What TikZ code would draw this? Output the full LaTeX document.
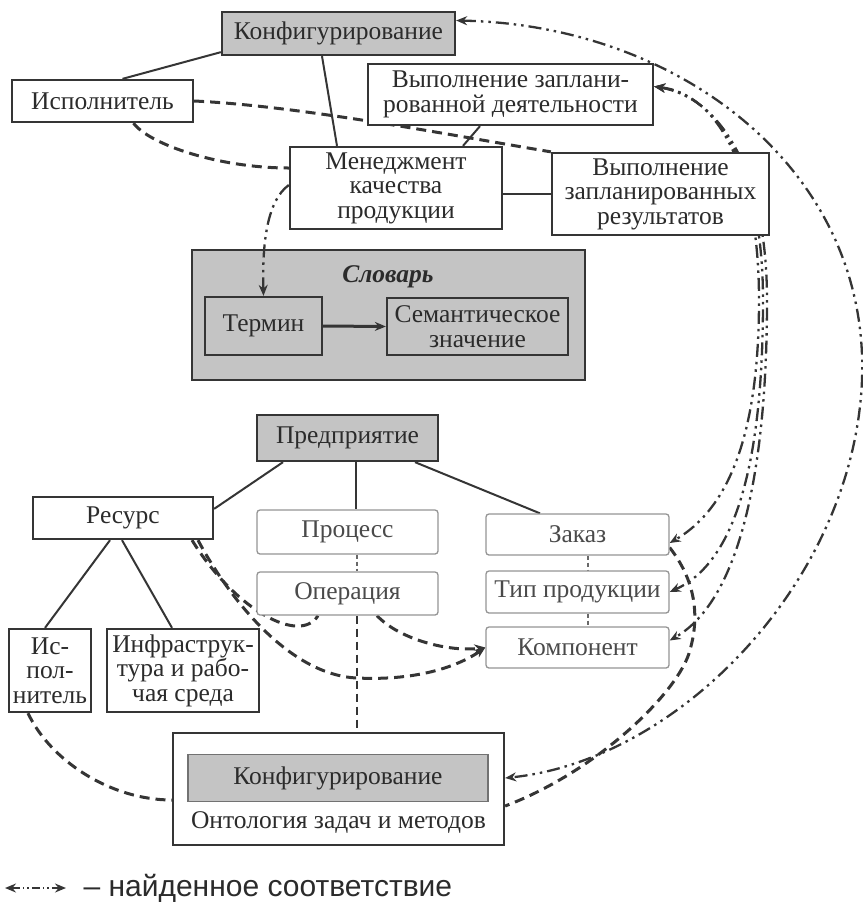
\documentclass[tikz,border=0pt]{standalone}
\usepackage{fontspec}
\setmainfont{Liberation Serif}
\newfontfamily\legendfont{Liberation Sans}
\usetikzlibrary{arrows.meta,calc}
\definecolor{ink}{HTML}{353535}
\definecolor{txt}{HTML}{2B2B2B}
\definecolor{lighttxt}{HTML}{4A4A4A}
\definecolor{lightline}{HTML}{959595}
\definecolor{boxgray}{HTML}{C4C4C4}
\pgfdeclarelayer{back}
\pgfdeclarelayer{lines}
\pgfsetlayers{back,lines,main}
\begin{document}
\begin{tikzpicture}[x=1pt,y=-1pt,
  font=\fontsize{25.5}{24.5}\selectfont,
  box/.style={draw=ink, line width=2.3pt, fill=white, text=txt, align=center, inner sep=0pt},
  gbox/.style={box, fill=boxgray},
  lbox/.style={draw=lightline, line width=1.3pt, rounded corners=3pt, fill=white, text=lighttxt, align=center, inner sep=0pt},
  sz/.style 2 args={minimum width=#1pt, minimum height=#2pt},
  solidlink/.style={draw=ink, line width=2pt},
  dlink/.style={draw=ink, line width=3pt, dash pattern=on 10pt off 6pt},
  thindash/.style={draw=lightline!70!black, line width=1.4pt, dash pattern=on 4pt off 3pt},
  corr/.style={draw=ink, line width=2.3pt, dash pattern=on 13pt off 5pt on 2.5pt off 5pt on 2.5pt off 5pt},
  arr/.style={-{Stealth[length=11pt,width=9pt]}},
  arrtwo/.style={{Stealth[length=11pt,width=9pt]}-{Stealth[length=11pt,width=9pt]}},
]
\useasboundingbox (0,0) rectangle (863,906);

% ---------- nodes ----------
\node[gbox, sz={233}{43}] (KonfigTop) at (338.5,33.5) {Конфигурирование};
\node[box, sz={181}{42}] (Isp) at (102.5,101) {Исполнитель};
\node[box, sz={285}{61}] (VypDeyat) at (510.5,94.5) {Выполнение заплани-\\рованной деятельности};
\node[box, sz={212}{82}] (Men) at (396,188) {Менеджмент\\качества\\продукции};
\node[box, sz={217}{82}] (VypRez) at (660.5,194) {Выполнение\\запланированных\\результатов};
\begin{pgfonlayer}{back}
\node[gbox, sz={393}{130}] (Slovar) at (388.5,315) {};
\end{pgfonlayer}
\node[font=\fontsize{25.5}{24.5}\selectfont\bfseries\itshape, text=txt] (SlovarT) at (388,277) {Словарь};
\node[gbox, sz={117}{58}] (Termin) at (263.5,326) {Термин};
\node[gbox, sz={181}{57}] (Sem) at (477.5,326.5) {Семантическое\\значение};
\node[gbox, sz={181}{46}] (Predp) at (347.5,438) {Предприятие};
\node[box, sz={180}{42}] (Res) at (123,518) {Ресурс};
\node[lbox, sz={181}{44}] (Proc) at (347.5,532) {Процесс};
\node[lbox, sz={181}{43}] (Oper) at (347.5,593.5) {Операция};
\node[lbox, sz={183}{41}] (Zak) at (577.5,534.5) {Заказ};
\node[lbox, sz={183}{42}] (Tip) at (577.5,592) {Тип продукции};
\node[lbox, sz={183}{41}] (Komp) at (577.5,647.5) {Компонент};
\node[box, sz={82}{83}] (IsPol) at (50,670.5) {Ис-\\пол-\\нитель};
\node[box, sz={152}{83}] (Infra) at (183,670.5) {Инфраструк-\\тура и рабо-\\чая среда};
\node[box, sz={331}{112}] (Onto) at (338.5,789) {};
\node[gbox, draw=ink!70, line width=1.6pt, sz={300}{47}] (OntoK) at (338,778) {Конфигурирование};
\node[text=txt] (OntoT) at (338.5,823) {Онтология задач и методов};

% legend
\coordinate (LA) at (5,888);
\coordinate (LB) at (66,888);
\draw[corr, arrtwo, line width=1.6pt, dash pattern=on 8pt off 3pt on 1.5pt off 3pt on 1.5pt off 3pt] (LA) -- (LB);
\node[anchor=west, font=\legendfont\fontsize{30}{30}\selectfont, text=txt] (Leg) at (80,888) {– найденное соответствие};

% ---------- connectors ----------
\begin{pgfonlayer}{lines}
% found correspondences
\draw[corr, arrtwo] ([yshift=13pt]KonfigTop.east) .. controls (680,25) and (870,170) .. (862,380)
   .. controls (854,580) and (680,760) .. (OntoK.east -| Onto.east);
\draw[corr, arrtwo] ([yshift=8pt]VypDeyat.east) .. controls (718,94) and (759,170) .. (759,300)
   .. controls (759,420) and (735,505) .. ([yshift=-8.5pt]Zak.east);
\draw[corr, arrtwo] ([yshift=8pt]VypDeyat.east) .. controls (720,96) and (763,172) .. (763,300)
   .. controls (763,450) and (740,560) .. (Tip.east);
\draw[corr, arrtwo] ([yshift=8pt]VypDeyat.east) .. controls (722,98) and (767,174) .. (767,300)
   .. controls (767,470) and (740,600) .. ([yshift=7pt]Komp.east);
\draw[corr, arr] ([yshift=3pt]Men.west) .. controls (268,200) and (262,240) .. (Termin.north);

% dashed relations
\draw[dlink] (Isp.east) .. controls (300,106) and (450,135) .. (VypRez.north west);
\draw[dlink] ([xshift=31pt]Isp.south) .. controls (150,145) and (220,168) .. ([yshift=20pt]Men.west);
\draw[dlink] ([xshift=-22pt]IsPol.south) .. controls (50,760) and (110,800) .. ([yshift=-11pt]Onto.west);
\draw[dlink] ([xshift=69pt]Res.south) .. controls (235,610) and (300,645) .. ([xshift=-29.5pt]Oper.south);
\draw[dlink, arr] ([xshift=75pt]Res.south) .. controls (230,600) and (290,675) .. (357,678)
   .. controls (420,681) and (460,665) .. (Komp.west);
\draw[dlink, arr] ([xshift=29.5pt]Oper.south) .. controls (400,640) and (450,652) .. (Komp.west);
\draw[dlink] ([yshift=-13pt]Zak.east) .. controls (695,580) and (700,615) .. (690,650)
   .. controls (680,690) and (600,770) .. ([yshift=-17pt]Onto.east);
\draw[dlink, line width=2.4pt, dash pattern=on 8pt off 5pt] ([xshift=9.5pt]Oper.south) -- ([xshift=18.5pt]Onto.north);

% thin dashed links
\draw[thindash] ([xshift=9.5pt]Proc.south) -- ([xshift=9.5pt]Oper.north);
\draw[thindash] ([xshift=10.5pt]Zak.south) -- ([xshift=10.5pt]Tip.north);
\draw[thindash] ([xshift=10.5pt]Tip.south) -- ([xshift=10.5pt]Komp.north);

% solid links
\draw[solidlink] ([yshift=4pt]KonfigTop.south west) -- ([xshift=20pt]Isp.north);
\draw[solidlink] ([xshift=-16.5pt]KonfigTop.south) -- ([xshift=-59pt]Men.north);
\draw[solidlink] (Men.east |- VypRez.west) -- (VypRez.west);
\draw[solidlink] ([xshift=-30.5pt]VypDeyat.south) -- ([xshift=67pt]Men.north);
\draw[draw=ink, line width=3pt, arr] (Termin.east) -- (Sem.west);
\draw[solidlink] ([xshift=-64.5pt]Predp.south) -- ([yshift=-13pt]Res.north east);
\draw[solidlink] ([xshift=8.5pt]Predp.south) -- ([xshift=8.5pt]Proc.north);
\draw[solidlink] ([xshift=67.5pt]Predp.south) -- ([xshift=-37.5pt]Zak.north);
\draw[solidlink] ([xshift=-13pt]Res.south) -- ([xshift=-5pt]IsPol.north);
\draw[solidlink] ([xshift=-1pt]Res.south) -- ([xshift=-11pt]Infra.north);
\end{pgfonlayer}
\end{tikzpicture}
\end{document}
